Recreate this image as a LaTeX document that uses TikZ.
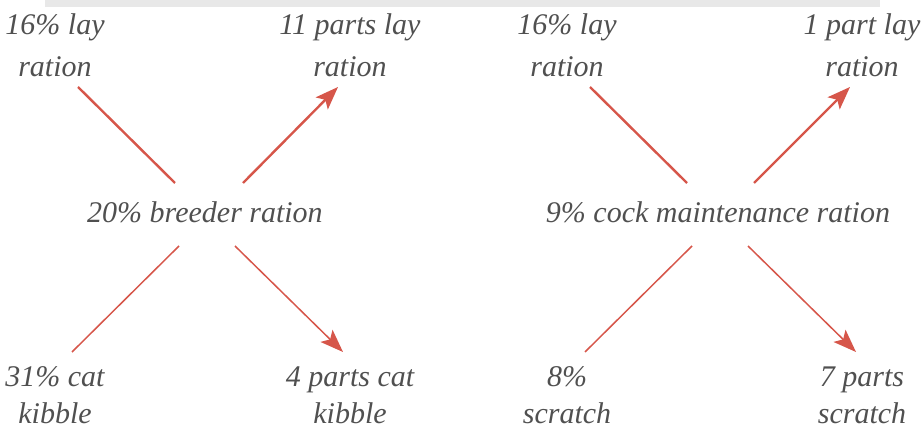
\documentclass[tikz,border=0pt]{standalone}
\usepackage{fontspec}
\setmainfont{Liberation Serif}
\usetikzlibrary{arrows.meta}
\definecolor{txtgray}{RGB}{80,80,80}
\definecolor{arrred}{RGB}{214,86,74}
\definecolor{bandgray}{RGB}{232,232,232}
\tikzset{
  lbl/.style={font=\fontsize{30}{42}\selectfont\itshape, text=txtgray, align=center, inner sep=0pt, anchor=base},
  lblb/.style={lbl, font=\fontsize{30}{37}\selectfont\itshape},
  thick line/.style={draw=arrred, line width=2.4pt},
  thin line/.style={draw=arrred, line width=1.5pt},
  head/.style={-{Stealth[length=23pt,width=17pt,inset=5pt]}}
}
\begin{document}
\begin{tikzpicture}[x=1pt,y=-1pt]
\useasboundingbox (0,0) rectangle (924,430);
\fill[bandgray] (45,0) rectangle (880,7);
% left group
\node[lbl] (a1) at (55,77) {16\% lay\\ration};
\node[lbl] (a2) at (350,77) {11 parts lay\\ration};
\node[lbl] (a0) at (205,223) {20\% breeder ration};
\node[lblb] (a3) at (55,423) {31\% cat\\kibble};
\node[lblb] (a4) at (350,423) {4 parts cat\\kibble};
% right group
\node[lbl] (b1) at (567,77) {16\% lay\\ration};
\node[lbl] (b2) at (862,77) {1 part lay\\ration};
\node[lbl] (b0) at (718,223) {9\% cock maintenance ration};
\node[lblb] (b3) at (567,423) {8\%\\scratch};
\node[lblb] (b4) at (862,423) {7 parts\\scratch};
% connector end points
\coordinate (a1e) at (78,87);
\coordinate (a0nw) at (175,183);
\coordinate (a0ne) at (243,183);
\coordinate (a2e) at (338,87);
\coordinate (a0sw) at (179,246);
\coordinate (a3e) at (72,352);
\coordinate (a0se) at (235,246);
\coordinate (a4e) at (343,352);
\coordinate (b1e) at (590,87);
\coordinate (b0nw) at (687,183);
\coordinate (b0ne) at (754,183);
\coordinate (b2e) at (850,87);
\coordinate (b0sw) at (692,246);
\coordinate (b3e) at (585,352);
\coordinate (b0se) at (748,246);
\coordinate (b4e) at (856,352);
\draw[thick line] (a1e) -- (a0nw);
\draw[thick line, head] (a0ne) -- (a2e);
\draw[thin line] (a0sw) -- (a3e);
\draw[thin line, head] (a0se) -- (a4e);
\draw[thick line] (b1e) -- (b0nw);
\draw[thick line, head] (b0ne) -- (b2e);
\draw[thin line] (b0sw) -- (b3e);
\draw[thin line, head] (b0se) -- (b4e);
\end{tikzpicture}
\end{document}
